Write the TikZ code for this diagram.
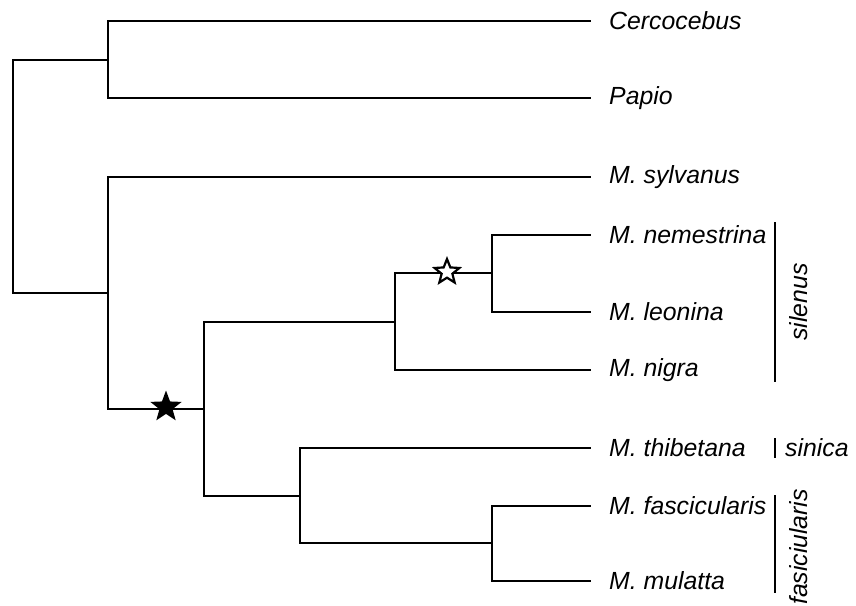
\documentclass[tikz,border=0pt]{standalone}
\usepackage{fontspec}
\setmainfont{Liberation Sans}
\usetikzlibrary{shapes.geometric}

\tikzset{
  branch/.style={line width=2.6pt,line cap=rect},
  taxon/.style={anchor=west,inner xsep=19pt,inner ysep=0pt,font=\fontsize{24.8}{28}\selectfont\itshape},
  clade/.style={inner sep=0pt,font=\fontsize{24.8}{28}\selectfont\itshape},
  bigstar/.style={star,star points=5,star point ratio=2.4,fill=black,minimum size=33pt,inner sep=0pt},
  openstar/.style={star,star points=5,star point ratio=2.3,draw=black,fill=white,line width=2.2pt,minimum size=26pt,inner sep=0pt}
}

\begin{document}
\begin{tikzpicture}[x=1pt,y=-1pt]
  \useasboundingbox (0,0) rectangle (856,605);

  % inner nodes of the tree
  \coordinate (r)  at (13,176);
  \coordinate (n1) at (108,60);
  \coordinate (n2) at (108,293);
  \coordinate (n3) at (204,409);
  \coordinate (n4) at (395,322);
  \coordinate (n5) at (492,273);
  \coordinate (n6) at (300,496);
  \coordinate (n7) at (492,543);

  % tips
  \node[taxon] (cer) at (590,21)  {Cercocebus};
  \node[taxon] (pap) at (590,98)  {Papio};
  \node[taxon] (syl) at (590,177) {M. sylvanus};
  \node[taxon] (nem) at (590,235) {M. nemestrina};
  \node[taxon] (leo) at (590,312) {M. leonina};
  \node[taxon] (nig) at (590,370) {M. nigra};
  \node[taxon] (thi) at (590,448) {M. thibetana};
  \node[taxon] (fas) at (590,506) {M. fascicularis};
  \node[taxon] (mul) at (590,581) {M. mulatta};

  \draw[branch] (r) |- (n1);
  \draw[branch] (r) |- (n2);
  \draw[branch] (n1) |- (cer.west);
  \draw[branch] (n1) |- (pap.west);
  \draw[branch] (n2) |- (syl.west);
  \draw[branch] (n2) |- (n3);
  \draw[branch] (n3) |- (n4);
  \draw[branch] (n3) |- (n6);
  \draw[branch] (n4) |- (n5);
  \draw[branch] (n4) |- (nig.west);
  \draw[branch] (n5) |- (nem.west);
  \draw[branch] (n5) |- (leo.west);
  \draw[branch] (n6) |- (thi.west);
  \draw[branch] (n6) |- (n7);
  \draw[branch] (n7) |- (fas.west);
  \draw[branch] (n7) |- (mul.west);

  \node[bigstar] (s1) at (166,407) {};
  \node[openstar] (s2) at (447,272) {};

  % groups
  \draw[branch,line cap=butt] (775,222) -- (775,382);
  \node[clade,rotate=90] (sil) at (799,302) {silenus};
  \draw[branch,line cap=butt] (775,438) -- (775,458);
  \node[clade,anchor=west] (sin) at (785,448) {sinica};
  \draw[branch,line cap=butt] (775,495) -- (775,593);
  \node[clade,rotate=90] (fsc) at (799,547) {fasiciularis};
\end{tikzpicture}
\end{document}
